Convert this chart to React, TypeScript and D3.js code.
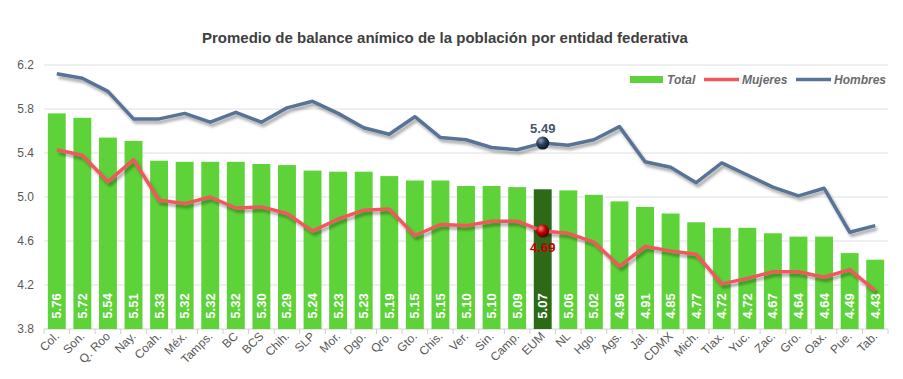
import React from "react";
import * as d3 from "d3";

const categories = ["Col.","Son.","Q. Roo","Nay.","Coah.","Méx.","Tamps.","BC","BCS","Chih.","SLP","Mor.","Dgo.","Qro.","Gto.","Chis.","Ver.","Sin.","Camp.","EUM","NL","Hgo.","Ags.","Jal.","CDMX","Mich.","Tlax.","Yuc.","Zac.","Gro.","Oax.","Pue.","Tab."];
const total = [5.76,5.72,5.54,5.51,5.33,5.32,5.32,5.32,5.30,5.29,5.24,5.23,5.23,5.19,5.15,5.15,5.10,5.10,5.09,5.07,5.06,5.02,4.96,4.91,4.85,4.77,4.72,4.72,4.67,4.64,4.64,4.49,4.43];
const mujeres = [5.43,5.38,5.14,5.34,4.97,4.94,5.00,4.90,4.91,4.85,4.69,4.80,4.88,4.89,4.65,4.75,4.74,4.78,4.78,4.69,4.67,4.59,4.37,4.55,4.51,4.48,4.21,4.26,4.32,4.32,4.27,4.34,4.15];
const hombres = [6.12,6.08,5.96,5.71,5.71,5.76,5.68,5.77,5.68,5.81,5.87,5.76,5.63,5.57,5.73,5.54,5.52,5.45,5.43,5.49,5.47,5.52,5.64,5.32,5.27,5.13,5.31,5.20,5.09,5.01,5.08,4.68,4.74];
const yTicks = [3.8,4.2,4.6,5.0,5.4,5.8,6.2];
const highlight = "EUM";
const title = "Promedio de balance anímico de la población por entidad federativa";

export default function App() {
  const W = 903, H = 379;
  const x = d3.scaleBand<string>().domain(categories).range([44, 888]).paddingInner(0.3).paddingOuter(0.15);
  const y = d3.scaleLinear().domain([3.8, 6.2]).range([329, 65]);
  const step = x.step();
  const cx = (c: string) => (x(c) as number) + x.bandwidth() / 2;
  const line = d3.line<number>().x((_, i) => cx(categories[i])).y(v => y(v));
  const hi = categories.indexOf(highlight);
  const font = "'Liberation Sans', Arial, sans-serif";
  const gray = "#595959";
  const green = "#5dd339";
  const red = "#f0585c";
  const blue = "#587396";

  return (
    <svg width={W} height={H} style={{ position: "absolute", left: 0, top: 0, fontFamily: font }}>
      <defs>
        <filter id="sh" x="-5%" y="-20%" width="110%" height="140%">
          <feDropShadow dx="2" dy="3" stdDeviation="1.8" floodColor="#000" floodOpacity="0.35" />
        </filter>
        <radialGradient id="gRed" cx="35%" cy="30%" r="70%">
          <stop offset="0%" stopColor="#ff8080" />
          <stop offset="50%" stopColor="#c00000" />
          <stop offset="100%" stopColor="#5a0000" />
        </radialGradient>
        <radialGradient id="gBlue" cx="35%" cy="30%" r="70%">
          <stop offset="0%" stopColor="#8aa0bd" />
          <stop offset="50%" stopColor="#2c3e57" />
          <stop offset="100%" stopColor="#0e1726" />
        </radialGradient>
      </defs>
      <rect x={0} y={0} width={W} height={H} fill="#fff" />
      <text x={445} y={43} textAnchor="middle" fontSize={15} fontWeight="bold" fill="#404040">{title}</text>

      {yTicks.map(t => (
        <g key={t}>
          <line x1={44} x2={888} y1={y(t)} y2={y(t)} stroke={t === 3.8 ? "#d0d0d0" : "#e0e0e0"} strokeWidth={1} />
          <text x={34} y={y(t) + 4} textAnchor="end" fontSize={12} fill={gray}>{t.toFixed(1)}</text>
        </g>
      ))}
      {d3.range(categories.length + 1).map(i => (
        <line key={i} x1={44 + i * step} x2={44 + i * step} y1={329} y2={334} stroke="#d0d0d0" />
      ))}

      {categories.map((c, i) => (
        <rect key={c} x={x(c)} y={y(total[i])} width={x.bandwidth()} height={y(3.8) - y(total[i])}
          fill={c === highlight ? "#2d6a18" : green} />
      ))}
      {categories.map((c, i) => (
        <text key={c} transform={`translate(${cx(c) + 4.5},${306}) rotate(-90)`} textAnchor="middle"
          fontFamily="'Liberation Sans Narrow', 'Arial Narrow', 'Liberation Sans', sans-serif"
          fontSize={13} fontWeight="bold" fill="#fff">{total[i].toFixed(2)}</text>
      ))}

      <path d={line(mujeres) as string} fill="none" stroke={red} strokeWidth={3.5} strokeLinejoin="round" filter="url(#sh)" />
      <path d={line(hombres) as string} fill="none" stroke={blue} strokeWidth={3.5} strokeLinejoin="round" filter="url(#sh)" />

      <circle cx={cx(highlight)} cy={y(mujeres[hi])} r={6.5} fill="url(#gRed)" />
      <circle cx={cx(highlight)} cy={y(hombres[hi])} r={6.5} fill="url(#gBlue)" />
      <text x={cx(highlight)} y={y(hombres[hi]) - 10} textAnchor="middle" fontSize={13} fontWeight="bold" fill="#44546a">{hombres[hi].toFixed(2)}</text>
      <text x={cx(highlight)} y={y(mujeres[hi]) + 21} textAnchor="middle" fontSize={13} fontWeight="bold" fill="#c00000">{mujeres[hi].toFixed(2)}</text>

      {categories.map(c => (
        <text key={c} transform={`translate(${cx(c) + 3},${337}) rotate(-45)`} textAnchor="end"
          fontSize={12} fill={gray}>{c}</text>
      ))}

      <g fontSize={12} fontWeight="bold" fontStyle="italic" fill="#6b6b6b">
        <rect x={630} y={76} width={33} height={7} fill={green} />
        <text x={667} y={84}>Total</text>
        <line x1={704} x2={739} y1={79.5} y2={79.5} stroke={red} strokeWidth={3.5} />
        <text x={742} y={84}>Mujeres</text>
        <line x1={796} x2={831} y1={79.5} y2={79.5} stroke={blue} strokeWidth={3.5} />
        <text x={834} y={84}>Hombres</text>
      </g>
    </svg>
  );
}
